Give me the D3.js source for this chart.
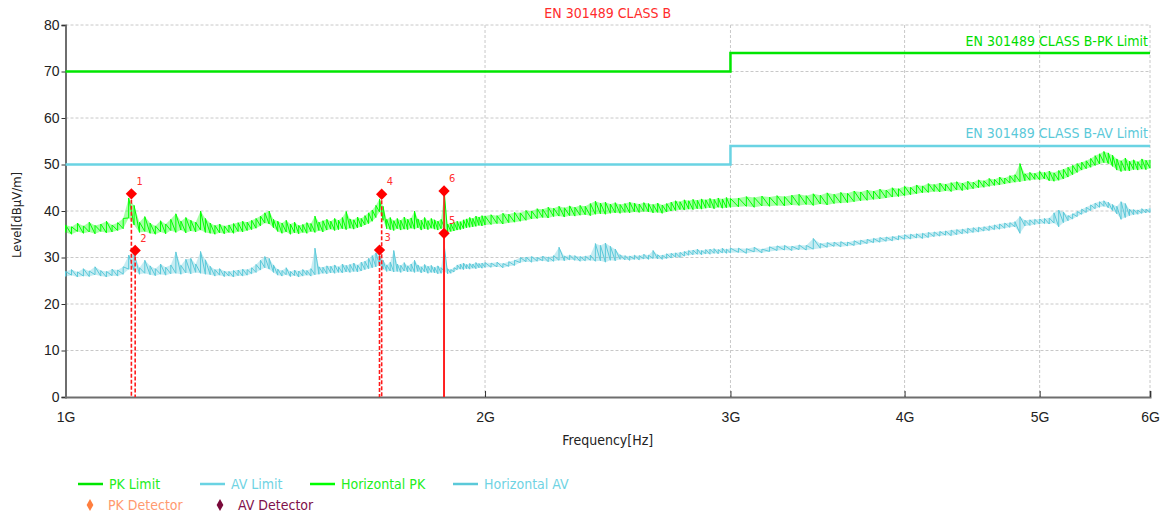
<!DOCTYPE html>
<html>
<head>
<meta charset="utf-8">
<script src="https://cdn.jsdelivr.net/npm/d3@7"></script>
<style>
  body { margin: 0; background: #fff; }
  svg { display: block; font-family: "Liberation Sans Narrow", "Arial Narrow", "DejaVu Sans Condensed", sans-serif; }
</style>
</head>
<body>
<script>
// frequencies in MHz
const freqMHz = [
  1000,1010,1020,1030,1040,1050,1060,1070,1080,1090,
  1100,1110,1120,1130,1140,1150,1160,1170,1180,1190,
  1200,1210,1220,1230,1240,1250,1260,1270,1280,1290,
  1300,1310,1320,1330,1340,1350,1360,1370,1380,1390,
  1400,1410,1420,1430,1440,1450,1460,1470,1480,1490,
  1500,1510,1520,1530,1540,1550,1560,1570,1580,1590,
  1600,1610,1620,1630,1640,1650,1660,1670,1680,1690,
  1700,1710,1720,1730,1740,1750,1760,1770,1780,1790,
  1800,1810,1820,1830,1840,1850,1860,1870,1880,1890,
  1900,1910,1920,1930,1940,1950,1960,1970,1980,1990,
  2000,
  2020,2040,2060,2080,2100,2120,2140,2160,2180,2200,
  2220,2240,2260,2280,2300,2320,2340,2360,2380,2400,
  2420,2440,2460,2480,2500,2520,2540,2560,2580,2600,
  2620,2640,2660,2680,2700,2720,2740,2760,2780,2800,
  2820,2840,2860,2880,2900,2920,2940,2960,2980,3000,
  3040,3080,3120,3160,3200,3240,3280,3320,3360,3400,
  3440,3480,3520,3560,3600,3640,3680,3720,3760,3800,
  3840,3880,3920,3960,4000,4040,4080,4120,4160,4200,
  4240,4280,4320,4360,4400,4440,4480,4520,4560,4600,
  4640,4680,4720,4760,4800,4840,4880,4920,4960,5000,
  5040,5080,5120,5160,5200,5240,5280,5320,5360,5400,
  5440,5480,5520,5560,5600,5640,5680,5720,5760,5800,
  5840,5880,5920,5960,6000
];

// Horizontal PK trace, low / high edge of the noise band (dBµV/m)
const pkLo = [
  35.4,35.0,35.6,35.2,35.5,35.1,35.6,35.3,35.5,35.8,
  36.2,38.5,37.0,35.4,35.6,35.2,35.0,35.5,35.1,35.8,
  35.4,35.9,35.3,35.7,35.5,35.9,35.4,35.2,35.0,35.3,
  35.1,35.4,35.2,35.6,35.5,35.8,36.0,36.3,36.8,37.4,
  37.2,36.4,35.6,35.2,35.5,35.0,35.3,35.1,35.4,35.2,
  35.6,35.4,35.8,35.5,35.9,36.1,35.8,36.0,36.2,36.0,
  36.3,36.1,36.4,36.6,37.0,37.3,37.8,38.6,39.8,38.0,
  36.2,36.0,35.8,36.2,35.9,36.1,36.0,36.3,36.1,36.4,
  35.9,36.2,36.0,36.3,36.1,35.9,36.2,36.4,35.4,35.6,
  35.7,35.9,36.0,36.2,36.4,36.5,36.6,36.7,36.9,36.8,
  37.0,
  37.1,37.3,37.2,37.5,37.6,37.8,38.0,38.3,38.4,38.6,
  38.5,38.8,38.9,38.7,39.0,38.9,39.1,39.2,39.0,39.3,
  39.4,39.3,39.5,39.6,39.5,39.7,39.6,39.8,39.7,39.9,
  39.8,39.6,39.7,39.5,39.8,40.0,40.1,40.3,40.2,40.4,
  40.3,40.5,40.4,40.6,40.7,40.5,40.8,40.6,40.7,40.8,
  40.9,41.0,40.8,41.1,41.0,41.2,41.1,41.3,41.2,41.4,
  41.2,41.5,41.3,41.6,41.7,41.8,42.0,42.2,42.3,42.5,
  42.6,42.8,43.0,43.1,43.3,43.5,43.7,43.9,44.0,44.2,
  44.1,44.3,44.2,44.5,44.4,44.6,44.8,45.0,45.1,45.3,
  45.5,45.6,45.8,46.0,46.2,46.3,46.5,46.6,46.8,46.7,
  46.9,46.5,46.4,46.6,46.9,47.3,47.8,48.3,48.8,49.1,
  49.4,49.8,50.1,50.4,50.2,49.6,48.8,48.5,48.7,48.6,
  48.9,48.8,49.0,48.9,49.2
];
const pkHi = [
  37.0,36.6,37.4,36.8,37.6,36.9,37.2,37.8,37.0,37.5,
  38.4,42.8,41.2,37.6,38.8,37.4,36.8,37.9,37.2,38.2,
  39.4,37.8,38.6,38.0,37.6,40.0,38.4,37.4,36.9,37.2,
  36.8,37.0,37.3,37.5,37.8,37.6,38.0,38.4,38.9,39.6,
  40.0,38.2,37.8,37.4,38.0,37.2,37.6,36.9,37.1,37.5,
  37.3,38.9,37.6,37.9,38.2,37.8,38.4,38.0,38.6,39.9,
  38.3,38.1,38.7,38.4,39.0,39.6,40.2,41.2,42.6,41.0,
  38.2,38.6,37.9,38.4,38.0,38.7,38.2,38.5,40.0,38.3,
  38.0,38.6,37.9,38.4,38.1,37.8,38.2,43.8,37.2,37.3,
  37.6,37.8,37.7,38.1,38.3,38.6,38.4,38.9,38.7,39.0,
  38.9,
  39.2,39.0,39.5,39.3,39.7,39.6,40.1,40.0,40.5,40.4,
  40.8,40.6,41.0,40.7,41.1,40.8,41.2,41.0,41.6,42.1,
  41.7,41.9,41.5,41.8,41.4,41.6,41.9,41.7,41.5,41.8,
  41.6,41.4,41.7,41.3,41.6,41.9,42.2,42.0,42.4,42.2,
  42.5,42.3,42.6,42.4,42.7,42.5,42.8,42.6,42.9,42.7,
  42.8,43.1,42.9,43.2,43.0,43.3,43.1,43.4,43.6,43.3,
  43.7,43.4,43.9,43.6,44.0,43.8,44.3,44.1,44.5,44.3,
  44.7,44.5,45.0,44.8,45.3,45.1,45.6,45.4,45.9,45.7,
  46.0,45.8,46.1,46.3,46.0,46.4,46.2,46.7,46.5,47.0,
  46.8,47.3,47.1,47.6,47.8,50.2,48.0,48.3,48.1,48.5,
  48.3,48.6,48.2,48.7,49.0,49.4,49.8,50.2,50.5,50.8,
  51.3,51.9,52.3,52.8,52.5,52.0,51.2,50.8,51.4,50.7,
  51.0,50.6,51.2,50.9,51.0
];

// Horizontal AV trace
const avLo = [
  25.9,26.2,25.8,26.0,25.9,26.3,26.0,25.8,26.1,26.0,
  26.4,27.5,27.2,26.4,26.6,26.3,26.1,26.4,26.2,26.5,
  26.6,26.4,26.7,26.5,26.8,26.6,26.4,26.3,26.0,26.2,
  25.9,26.0,25.8,26.1,26.0,26.2,26.5,26.8,27.3,27.8,
  27.5,26.8,26.2,26.0,26.3,25.9,26.1,25.8,26.0,26.2,
  26.0,26.3,26.4,26.6,26.5,26.7,26.6,26.8,26.7,26.9,
  26.8,27.0,26.9,27.1,27.4,27.6,27.8,28.0,28.4,27.5,
  27.0,27.1,26.9,27.0,26.8,27.1,26.9,27.0,26.8,27.0,
  26.7,26.9,26.6,26.8,26.7,26.5,26.6,27.0,26.5,26.6,
  26.9,27.4,27.5,27.4,27.6,27.5,27.7,27.6,27.8,27.7,
  27.9,
  27.9,28.0,27.8,28.1,28.3,28.9,29.1,29.0,29.2,29.3,
  29.1,29.2,29.4,29.3,29.5,29.4,29.2,29.3,29.4,29.2,
  29.3,29.0,29.4,29.3,29.6,29.5,29.4,29.6,29.5,29.7,
  29.6,29.8,29.7,29.6,29.8,29.9,30.1,30.0,30.3,30.5,
  30.6,30.7,30.6,30.8,30.7,30.9,30.8,31.0,30.9,31.0,
  31.1,30.9,31.2,31.0,31.3,31.5,31.6,31.5,31.7,31.6,
  31.8,32.0,32.2,32.4,32.3,32.5,32.6,32.8,33.0,33.2,
  33.3,33.5,33.6,33.8,33.9,34.0,34.2,34.1,34.3,34.5,
  34.6,34.8,34.7,34.9,35.1,35.2,35.4,35.5,35.7,35.8,
  36.0,36.1,36.3,36.5,36.6,35.2,36.8,36.9,37.1,37.2,
  37.3,37.2,37.4,36.6,37.5,37.9,38.3,38.8,39.3,39.7,
  40.1,40.5,40.8,41.0,40.7,40.1,39.4,38.2,38.6,39.0,
  39.2,39.3,39.5,39.6,39.7
];
const avHi = [
  27.0,27.4,26.9,27.6,27.1,28.0,27.2,27.0,27.5,27.3,
  28.0,30.5,30.8,27.8,29.4,28.2,27.6,28.6,27.9,28.4,
  31.2,28.3,29.6,29.8,28.6,31.3,29.5,28.1,27.4,27.6,
  27.1,27.0,27.2,27.3,27.5,27.4,27.8,28.5,29.4,30.2,
  29.8,28.4,27.5,27.2,27.8,27.0,27.3,27.1,27.4,27.2,
  27.6,32.0,28.0,27.9,28.2,28.1,28.4,28.0,28.6,28.3,
  28.5,28.8,28.4,29.0,29.2,29.8,30.4,31.0,30.6,29.4,
  28.4,29.0,31.5,28.6,28.3,28.9,28.2,28.6,29.4,28.4,
  28.0,28.5,28.1,28.3,27.9,28.2,27.8,32.3,27.6,27.4,
  27.8,28.4,28.6,28.8,28.5,28.7,28.6,28.9,28.7,28.8,
  28.9,
  28.8,29.0,28.7,29.1,29.4,30.0,30.1,30.2,30.0,30.3,
  30.1,30.4,32.2,30.3,30.5,30.4,30.2,30.3,30.5,33.0,
  32.6,33.1,32.4,31.8,30.6,30.4,30.3,30.5,30.4,30.7,
  30.5,31.5,30.6,30.5,30.8,30.9,31.0,31.1,31.3,31.5,
  31.6,31.8,31.5,31.7,31.8,31.9,31.7,32.0,31.8,32.0,
  32.0,31.9,32.2,31.8,32.3,32.5,32.6,32.4,32.7,32.6,
  34.1,33.0,33.2,33.3,33.4,33.3,33.6,33.7,33.9,34.1,
  34.3,34.4,34.5,34.7,34.9,35.0,35.1,35.2,35.4,35.5,
  35.6,35.7,35.9,36.0,36.1,36.3,36.4,36.5,36.6,36.8,
  37.0,37.2,37.4,37.5,37.7,38.8,38.0,38.1,38.2,38.3,
  38.4,38.5,39.6,40.2,39.8,39.0,39.4,39.9,40.4,40.8,
  41.3,41.7,42.0,42.2,41.9,41.4,41.0,42.0,41.6,40.4,
  40.3,40.2,40.5,40.4,40.6
];

// limit lines (step at 3 GHz)
const limitFreqMHz = [1000, 3000, 3000, 6000];
const pkLimit = [70, 70, 74, 74];
const avLimit = [50, 50, 54, 54];

// detector markers
const markerNo = [1, 2, 3, 4, 5, 6];
const markerFreqMHz = [1115, 1122, 1680, 1686, 1869, 1869];
const markerLevel = [43.7, 31.5, 31.6, 43.6, 35.2, 44.3];

const xTicksMHz = [1000, 2000, 3000, 4000, 5000, 6000];
const yTicks = [0, 10, 20, 30, 40, 50, 60, 70, 80];

const lineLegend = ["PK Limit", "AV Limit", "Horizontal PK", "Horizontal AV"];
const symbolLegend = ["PK Detector", "AV Detector"];

const W = 1166, H = 517;
const plotL = 65.5, plotR = 1150, plotT = 25, plotB = 397;

const GREEN = "#00ff00", GREEN_LIM = "#00e600";
const CYAN = "#5bc9d9", CYAN_LIM = "#6ad3e3";

const svg = d3.select("body").append("svg").attr("width", W).attr("height", H);

const x = d3.scaleLog().domain([1000, 6000]).range([plotL, plotR]);
const y = d3.scaleLinear().domain([0, 80]).range([plotB, plotT]);

// grid
const grid = svg.append("g")
  .attr("stroke", "#c8c8c8").attr("stroke-dasharray", "3,2").attr("stroke-width", 1);
grid.selectAll("line.h").data(yTicks.filter((d) => d > 0)).join("line")
  .attr("class", "h")
  .attr("x1", plotL).attr("x2", plotR)
  .attr("y1", (d) => y(d)).attr("y2", (d) => y(d));
grid.selectAll("line.v").data(xTicksMHz.filter((d) => d > 1000)).join("line")
  .attr("class", "v")
  .attr("x1", (d) => x(d)).attr("x2", (d) => x(d))
  .attr("y1", plotT).attr("y2", plotB);

// axes
const yAxis = svg.append("g")
  .attr("transform", `translate(${plotL},0)`)
  .call(d3.axisLeft(y).tickValues(yTicks).tickSize(4).tickPadding(2));
const xAxis = svg.append("g")
  .attr("transform", `translate(0,${plotB})`)
  .call(d3.axisBottom(x).tickValues(xTicksMHz).tickSize(-6).tickPadding(15)
    .tickFormat((d) => d / 1000 + "G"));
[xAxis, yAxis].forEach((a) => {
  a.select(".domain").attr("stroke", "#6e6e6e").attr("stroke-width", 2);
  a.selectAll(".tick line").attr("stroke", "#333");
  a.selectAll(".tick text").attr("fill", "#222").style("font-size", "14px");
});
xAxis.selectAll(".tick").filter((d) => d === 1000).select("line").remove();

// limits
const limLine = d3.line().x((d) => x(d[0])).y((d) => y(d[1]));
svg.append("path").datum(d3.zip(limitFreqMHz, pkLimit)).attr("d", limLine)
  .attr("fill", "none").attr("stroke", GREEN_LIM).attr("stroke-width", 2.5);
svg.append("path").datum(d3.zip(limitFreqMHz, avLimit)).attr("d", limLine)
  .attr("fill", "none").attr("stroke", CYAN_LIM).attr("stroke-width", 2.5);

// traces: light noise band plus a zigzag through low/high edge at every frequency
const bandArea = d3.area()
  .x((d, i) => x(freqMHz[i]))
  .y0((d) => y(d[0])).y1((d) => y(d[1]));
const band = (lo, hi) => freqMHz.flatMap((f, i) => [[f, lo[i]], [f, hi[i]]]);
const traceLine = d3.line().x((d) => x(d[0])).y((d) => y(d[1]));
const drawTrace = (lo, hi, col) => {
  svg.append("path").datum(d3.zip(lo, hi)).attr("d", bandArea)
    .attr("fill", col).attr("fill-opacity", 0.35);
  svg.append("path").datum(band(lo, hi)).attr("d", traceLine)
    .attr("fill", "none").attr("stroke", col).attr("stroke-width", 1);
};
drawTrace(avLo, avHi, CYAN);
drawTrace(pkLo, pkHi, GREEN);

// markers
const markers = markerNo.map((n, i) => ({ n, f: markerFreqMHz[i], v: markerLevel[i] }));
svg.append("g").selectAll("line").data(markers).join("line")
  .attr("x1", (d) => x(d.f)).attr("x2", (d) => x(d.f))
  .attr("y1", (d) => y(d.v)).attr("y2", plotB)
  .attr("stroke", "#ff1a1a").attr("stroke-width", 1.6)
  .attr("stroke-dasharray", (d) => markers.filter((m) => m.f === d.f).length > 1 ? null : "4,2");
svg.append("g").selectAll("path").data(markers).join("path")
  .attr("d", d3.symbol(d3.symbolSquare, 64))
  .attr("transform", (d) => `translate(${x(d.f)},${y(d.v)}) rotate(45)`)
  .attr("fill", "#ff0000");
svg.append("g").selectAll("text").data(markers).join("text")
  .attr("x", (d) => x(d.f) + 5).attr("y", (d) => y(d.v) - 9)
  .attr("fill", "#ff3030").style("font-size", "11px")
  .text((d) => d.n);

// limit labels
svg.append("text").attr("x", plotR - 2).attr("y", y(74) - 7).attr("text-anchor", "end")
  .attr("fill", "#00dd00").style("font-size", "14px").text("EN 301489 CLASS B-PK Limit");
svg.append("text").attr("x", plotR - 2).attr("y", y(54) - 8).attr("text-anchor", "end")
  .attr("fill", CYAN).style("font-size", "14px").text("EN 301489 CLASS B-AV Limit");

// titles
svg.append("text").attr("x", (plotL + plotR) / 2).attr("y", 18).attr("text-anchor", "middle")
  .attr("fill", "#ff2b2b").style("font-size", "14px").text("EN 301489 CLASS B");
svg.append("text").attr("x", (plotL + plotR) / 2).attr("y", 445).attr("text-anchor", "middle")
  .attr("fill", "#222").style("font-size", "14px").text("Frequency[Hz]");
svg.append("text").attr("transform", `translate(21,${(plotT + plotB) / 2 + 4}) rotate(-90)`)
  .attr("text-anchor", "middle").attr("fill", "#222").style("font-size", "13px")
  .text("Level[dBμV/m]");

// legend
const lineCols = [GREEN_LIM, CYAN_LIM, GREEN, CYAN];
const lineTextCols = ["#22ee22", "#6fd3e3", "#22ee22", "#6fd3e3"];
const lineX = [78, 200, 310, 453];
const lg = svg.append("g");
lineLegend.forEach((name, i) => {
  lg.append("line").attr("x1", lineX[i]).attr("x2", lineX[i] + 25)
    .attr("y1", 484).attr("y2", 484).attr("stroke", lineCols[i]).attr("stroke-width", 2.5);
  lg.append("text").attr("x", lineX[i] + 31).attr("y", 489)
    .attr("fill", lineTextCols[i]).style("font-size", "14px").text(name);
});
const symCols = ["#ff7f3f", "#7a0a3a"];
const symTextCols = ["#ff9a70", "#80104a"];
const symX = [90, 220];
symbolLegend.forEach((name, i) => {
  lg.append("path").attr("d", d3.symbol(d3.symbolDiamond, 40))
    .attr("transform", `translate(${symX[i]},505)`).attr("fill", symCols[i]);
  lg.append("text").attr("x", symX[i] + 18).attr("y", 510)
    .attr("fill", symTextCols[i]).style("font-size", "14px").text(name);
});
</script>
</body>
</html>
